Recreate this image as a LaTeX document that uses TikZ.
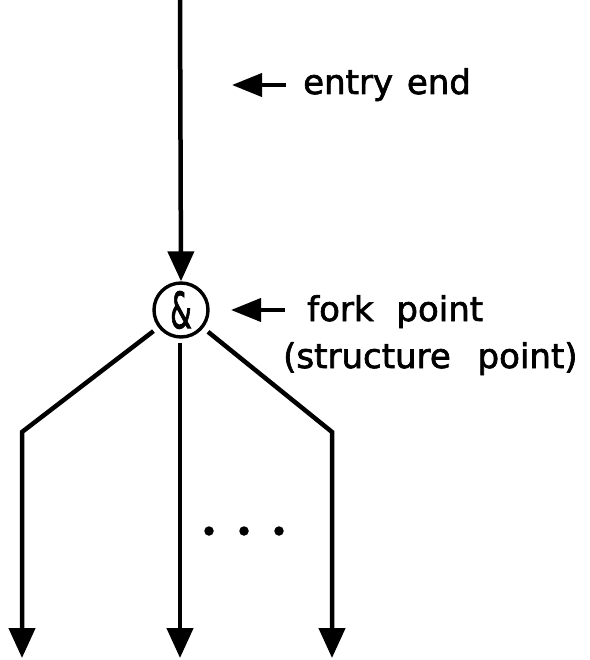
\documentclass[tikz,border=0pt]{standalone}
\usepackage{fontspec}
\usepackage{graphicx}
\usepackage{tikz}
\usetikzlibrary{arrows.meta,positioning,calc}
\newfontfamily\lblfont[FakeBold=2]{DejaVu Sans}
\definecolor{flink}{RGB}{0,0,0}
\tikzset{
  flowline/.style={draw=flink, line width=4.5pt, line cap=butt},
  flowarr/.style={flowline, -{Triangle[length=30pt,width=26pt]}},
  lblarr/.style={draw=flink, line width=4pt, -{Triangle[length=30pt,width=23pt]}},
  lbl/.style={font=\lblfont\fontsize{34}{38}\selectfont, text=flink, inner sep=0pt, anchor=base west},
  forkpt/.style={circle, draw=flink, line width=3.4pt, minimum size=54pt, inner sep=0pt},
  dotpt/.style={circle, fill=flink, minimum size=9.5pt, inner sep=0pt}
}

\begin{document}
\begin{tikzpicture}[x=1pt, y=-1pt]
  \useasboundingbox (0,0) rectangle (589,660);
  % entry end and fork point
  \coordinate (entry) at (180,0);
  \node[forkpt] (fork) at (181,310)
    {\scalebox{0.55}[1]{\lblfont\fontsize{50}{50}\selectfont\&}};
  \draw[flowarr] (entry) -- (fork.north);
  % branches
  \coordinate (lbend) at (22,432);
  \coordinate (rbend) at (332,432);
  \coordinate (lend) at (22,658);
  \coordinate (mend) at (180,658);
  \coordinate (rend) at (332,658);
  \draw[flowarr, shorten <=6pt] (fork) -- (lbend) -- (lend);
  \draw[flowarr, shorten <=4pt] (fork.south) ++(-1,0) coordinate (mstart) -- (mend);
  \draw[flowarr, shorten <=6pt] (fork) -- (rbend) -- (rend);
  \foreach \dx [count=\i] in {209,244,279}
    \node[dotpt] (dot\i) at (\dx,531) {};
  % labels
  \node[lbl] (entrylbl) at (303,94) {entry\hspace{3pt} end};
  \coordinate (entrytail) at (286,85);
  \coordinate (entrytip) at (232,85);
  \draw[lblarr] (entrytail) -- (entrytip);
  \node[lbl] (forklbl) at (307,321) {fork\hspace{12pt} point};
  \node[lbl] (structlbl) at (283,368) {(structure\hspace{16pt} point)};
  \coordinate (forktail) at (285,310);
  \coordinate (forktip) at (231,310);
  \draw[lblarr] (forktail) -- (forktip);
\end{tikzpicture}
\end{document}
